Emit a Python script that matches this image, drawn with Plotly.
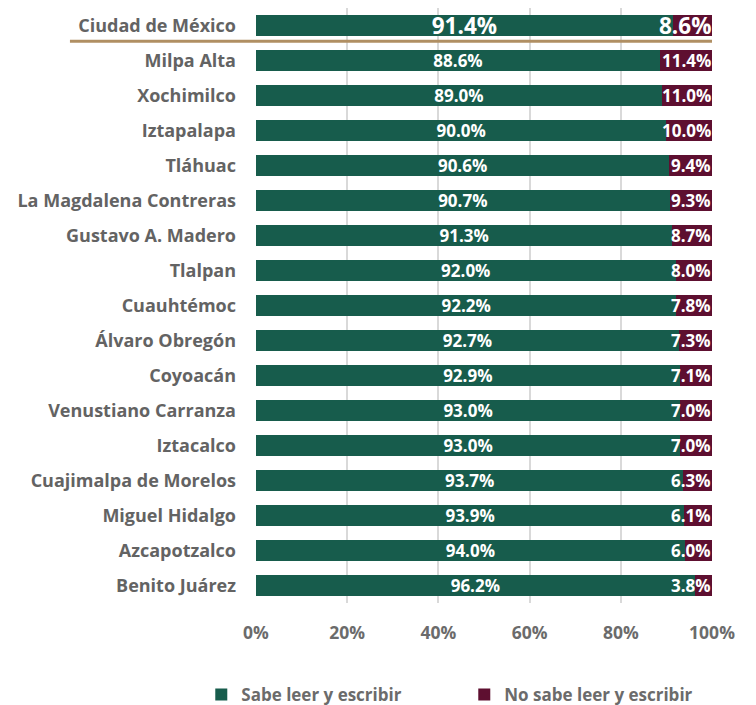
import plotly.graph_objects as go

categories = ["Ciudad de México", "Milpa Alta", "Xochimilco", "Iztapalapa", "Tláhuac",
              "La Magdalena Contreras", "Gustavo A. Madero", "Tlalpan", "Cuauhtémoc",
              "Álvaro Obregón", "Coyoacán", "Venustiano Carranza", "Iztacalco",
              "Cuajimalpa de Morelos", "Miguel Hidalgo", "Azcapotzalco", "Benito Juárez"]
sabe = [91.4, 88.6, 89.0, 90.0, 90.6, 90.7, 91.3, 92.0, 92.2, 92.7, 92.9, 93.0, 93.0, 93.7, 93.9, 94.0, 96.2]
no_sabe = [8.6, 11.4, 11.0, 10.0, 9.4, 9.3, 8.7, 8.0, 7.8, 7.3, 7.1, 7.0, 7.0, 6.3, 6.1, 6.0, 3.8]
tick_vals = [0, 20, 40, 60, 80, 100]
tick_text = ["0%", "20%", "40%", "60%", "80%", "100%"]

GREEN = "#175C4C"
MAROON = "#5E0F30"
GRAY = "#6B6B6B"
FONT = "'Open Sans', sans-serif"

ypos = list(range(len(categories)))
fig = go.Figure()
green_text = [f"<b>{v:.1f}%</b>" for v in sabe]
green_size = [22.5 if i == 0 else 17 for i in ypos]
fig.add_trace(go.Bar(
    y=ypos, x=sabe, orientation="h", name="<b>Sabe leer y escribir</b>",
    marker=dict(color=GREEN, line=dict(width=0)),
    text=green_text, textposition="inside", insidetextanchor="middle",
    textfont=dict(color="white", size=green_size, family=FONT),
    constraintext="none", width=0.62, hoverinfo="skip",
))
fig.add_trace(go.Bar(
    y=ypos, x=no_sabe, orientation="h", name="<b>No sabe leer y escribir</b>",
    marker=dict(color=MAROON, line=dict(width=0)),
    width=0.62, hoverinfo="skip",
))
for i, (s, n) in enumerate(zip(sabe, no_sabe)):
    fig.add_annotation(x=s + n, y=i, xref="x", yref="y", text=f"<b>{n:.1f}%</b>",
                       xanchor="right", yanchor="middle", showarrow=False, xshift=1,
                       font=dict(color="white", size=22.5 if i == 0 else 17, family=FONT))

ticktext = [f"<b>{c}</b>" for c in categories]

fig.add_shape(type="line", xref="paper", yref="y", x0=-0.408, x1=1.0, y0=0.45, y1=0.45,
              line=dict(color="#B08F63", width=3))

fig.update_layout(
    barmode="stack",
    width=756, height=705,
    margin=dict(l=248, r=52, t=0, b=102),
    plot_bgcolor="white", paper_bgcolor="white",
    font=dict(family=FONT, color=GRAY, size=15),
    xaxis=dict(range=[0, 100], tickvals=tick_vals, ticktext=[f"<b>{t}</b>" for t in tick_text],
               showgrid=True, gridcolor="#D9D9D9", gridwidth=2, zeroline=False,
               showline=False, ticks="", tickfont=dict(size=17.5, color=GRAY), ticklabelstandoff=17),
    yaxis=dict(tickvals=ypos, ticktext=ticktext, range=[len(categories) - 0.5, -0.5],
               showgrid=False, zeroline=False, ticks="", ticklabelstandoff=19,
               tickfont=dict(size=18, color="#636363")),
    legend=dict(orientation="h", x=-0.12, xanchor="left", y=-0.125, yanchor="top",
                entrywidth=218, entrywidthmode="pixels", font=dict(size=17, color=GRAY),
                traceorder="normal", itemclick=False),
    showlegend=True,
)

fig.write_html("out.html")
